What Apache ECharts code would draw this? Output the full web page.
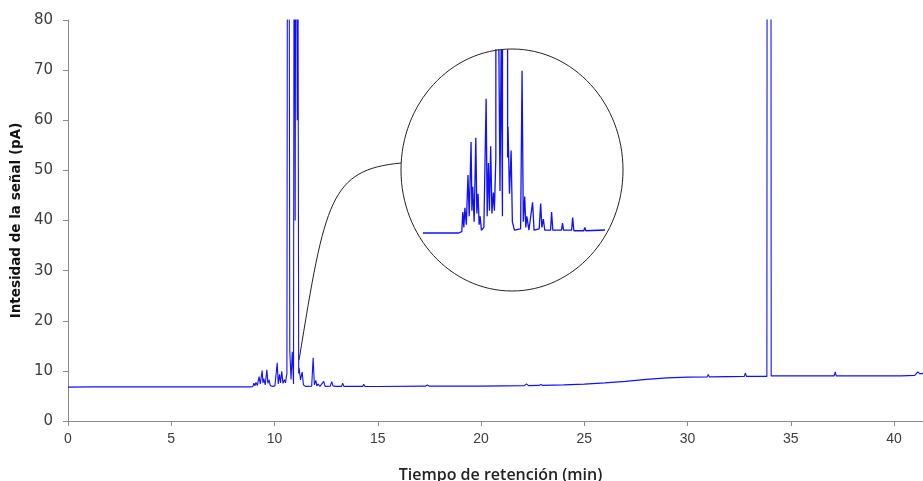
<!DOCTYPE html>
<html>
<head>
<meta charset="utf-8">
<script src="https://cdn.jsdelivr.net/npm/echarts@6/dist/echarts.min.js"></script>
<style>
  html, body { margin: 0; padding: 0; background: #fff; }
  #chart { width: 923px; height: 481px; }
</style>
</head>
<body>
<div id="chart"></div>
<script>
// Chromatogram: retention time (min) and detector signal (pA)
const retentionTime = [
  0, 1.2, 5, 8.8, 8.95, 9.0, 9.05, 9.1, 9.17, 9.25, 9.31, 9.4, 9.44, 9.48, 9.55,
  9.63, 9.68, 9.74, 9.79, 9.84, 9.9, 10.02, 10.13, 10.18, 10.24, 10.29, 10.35, 10.41,
  10.48, 10.53, 10.6, 10.64, 10.7, 10.74, 10.8, 10.86, 10.92, 10.96, 11.0, 11.04, 11.1,
  11.13, 11.17, 11.19, 11.26, 11.34, 11.4, 11.5, 11.8, 11.87, 11.93, 12.0, 12.05, 12.1,
  12.2, 12.38, 12.45, 12.7, 12.77, 12.83, 12.9, 12.97, 13.25, 13.3, 13.36, 13.78, 13.83,
  13.88, 14.27, 14.32, 14.38, 14.86, 14.91, 14.96, 17.3, 17.4, 17.5, 20, 22.1, 22.2,
  22.3, 22.8, 22.9, 23.0, 24, 25, 26, 27, 28, 29, 30, 30.95, 31.0, 31.05, 32.0, 32.75,
  32.8, 32.85, 33.84, 33.87, 34.02, 34.05, 37.1, 37.15, 37.2, 37.65, 37.7, 37.75, 38.75,
  38.8, 38.85, 40.25, 40.3, 40.35, 41.0, 41.15, 41.25, 41.4
];
const signal = [
  6.75, 6.8, 6.8, 6.8, 6.85, 7.55, 7.0, 7.7, 7.1, 8.87, 7.4, 10.05, 7.6, 8.45, 7.2,
  10.2, 7.5, 8.2, 7.1, 7.4, 6.9, 7.0, 11.6, 7.4, 9.3, 7.6, 9.9, 7.5,
  8.25, 7.6, 9.5, 160, 120, 14, 8.3, 13.8, 7.4, 150, 40, 140, 60,
  110, 9.5, 10.6, 8.2, 9.75, 7.2, 6.9, 6.95, 12.6, 7.2, 8.1, 7.0, 7.4,
  6.9, 7.9, 6.9, 6.95, 7.85, 7.0, 7.3, 6.9, 6.9, 7.55, 6.9, 6.9, 7.15,
  6.9, 6.9, 7.35, 6.88, 6.88, 7.0, 6.88, 6.95, 7.2, 6.95, 6.95, 7.05, 7.4,
  7.05, 7.1, 7.3, 7.1, 7.2, 7.35, 7.6, 7.9, 8.3, 8.6, 8.75, 8.8, 9.3, 8.8, 8.85, 8.9,
  9.6, 8.9, 8.9, 250, 250, 9.0, 9.0, 9.8, 9.0, 9.0, 9.3, 9.0, 9.0,
  9.15, 9.0, 9.0, 9.3, 9.0, 9.1, 9.8, 9.4, 9.5
];
const yTicks = [0, 10, 20, 30, 40, 50, 60, 70, 80];
const xTicks = [0, 5, 10, 15, 20, 25, 30, 35, 40];

const points = retentionTime.map((t, i) => [t, signal[i]]);

const labelColor = '#3c3c3c';
const axisColor = '#8a8a8a';
const traceColor = '#1010ff';

const chart = echarts.init(document.getElementById('chart'));

const option = {
  animation: false,
  backgroundColor: '#ffffff',
  grid: [
    { left: 68, right: 0, top: 20, bottom: 60, containLabel: false, outerBoundsMode: 'none' },
    // magnified window over the 7–16 min region
    { left: 424, width: 179, top: 50, height: 205.4, containLabel: false, outerBoundsMode: 'none' }
  ],
  xAxis: [
    {
      gridIndex: 0, type: 'value', min: 0, max: 41.4, interval: 5,
      axisLine: { show: true, onZero: false, lineStyle: { color: axisColor, width: 1 } },
      axisTick: { show: true, inside: false, length: 5, lineStyle: { color: axisColor } },
      axisLabel: {
        show: true, margin: 11, color: labelColor, fontSize: 14,
        fontFamily: 'Liberation Sans',
        showMaxLabel: false,
        formatter: v => (xTicks.includes(v) ? String(v) : '')
      },
      splitLine: { show: false },
      name: 'Tiempo de retención (min)',
      nameLocation: 'middle', nameGap: 46,
      nameTextStyle: { color: '#222', fontSize: 16, fontWeight: 600, fontFamily: 'Open Sans', padding: [0, 0, 0, 10] }
    },
    {
      gridIndex: 0, type: 'value', position: 'top', min: 0, max: 41.4,
      axisLine: { show: true, lineStyle: { color: axisColor, width: 1 } },
      axisTick: { show: false }, axisLabel: { show: false }, splitLine: { show: false }
    },
    {
      gridIndex: 1, type: 'value', min: 7.12, max: 15.79, show: false
    }
  ],
  yAxis: [
    {
      gridIndex: 0, type: 'value', min: 0, max: 80, interval: 10,
      axisLine: { show: true, lineStyle: { color: axisColor, width: 1 } },
      axisTick: { show: true, inside: false, length: 5, lineStyle: { color: axisColor } },
      axisLabel: {
        show: true, margin: 15, color: labelColor, fontSize: 15,
        fontFamily: 'DejaVu Sans',
        formatter: v => (yTicks.includes(v) ? String(v) : '')
      },
      splitLine: { show: false },
      name: 'Intesidad de la señal (pA)',
      nameLocation: 'middle', nameRotate: 90, nameGap: 44,
      nameTextStyle: { color: '#111', fontSize: 13.5, fontWeight: 'bold', fontFamily: 'DejaVu Sans' }
    },
    {
      gridIndex: 1, type: 'value', min: 6.0, max: 13.34, show: false
    }
  ],
  series: [
    {
      type: 'line', xAxisIndex: 0, yAxisIndex: 0, data: points,
      showSymbol: false, symbol: 'none', silent: true, clip: true,
      lineStyle: { color: traceColor, width: 1.1 }
    },
    {
      type: 'line', xAxisIndex: 2, yAxisIndex: 1, data: points,
      showSymbol: false, symbol: 'none', silent: true, clip: true,
      lineStyle: { color: traceColor, width: 1.3 }
    }
  ]
};

chart.setOption(option);

// callout: ellipse round the magnified trace, joined to the peak cluster
const anchor = chart.convertToPixel({ xAxisIndex: 0, yAxisIndex: 0 }, [11.19, 12.2]);
const lens = { cx: 512, cy: 170, rx: 111, ry: 121 };
const endX = lens.cx - lens.rx * Math.sqrt(1 - Math.pow(7 / lens.ry, 2));
const endY = lens.cy - 7;

chart.setOption({
  graphic: [
    {
      type: 'ellipse', silent: true, z: 10,
      shape: lens,
      style: { fill: 'none', stroke: '#222', lineWidth: 1 }
    },
    {
      type: 'bezierCurve', silent: true, z: 10,
      shape: {
        x1: anchor[0], y1: anchor[1],
        cpx1: anchor[0] + 26, cpy1: anchor[1] - 160,
        cpx2: anchor[0] + 31, cpy2: anchor[1] - 190,
        x2: endX, y2: endY
      },
      style: { fill: 'none', stroke: '#222', lineWidth: 1 }
    }
  ]
});
</script>
</body>
</html>
